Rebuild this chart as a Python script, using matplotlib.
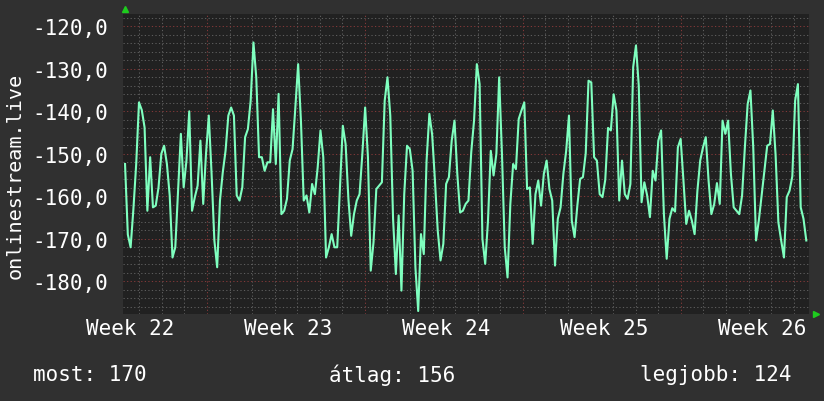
import numpy as np
import matplotlib.pyplot as plt

# onlinestream.live, ~3 hour samples over about a month
values = [
    -152.4, -169, -172, -163, -152.4, -137.9, -139.7, -143.8, -163.4, -150.8,
    -162.6, -162.2, -157.9, -150, -148.1, -152.4, -159.8, -174.4, -172, -158.7,
    -145.3, -157.9, -151.6, -140, -163.4, -160.2, -157.5, -146.9, -161.8, -150,
    -141, -154.7, -170.4, -176.7,
    -161, -154.4, -149.3, -141, -139.1, -141, -159.8, -161, -157.9, -146.1,
    -144.2, -137.5, -123.8, -132, -150.8, -150.8, -154, -152, -152, -139.5,
    -152.4, -135.9, -164.2, -163.4, -160.6, -151.6, -148.9, -139.1, -128.9, -142.2,
    -161, -159.8, -163.8, -157.1,
    -159.5, -153.2, -144.5, -150.8, -174.4, -172, -168.9, -172, -172, -157.5,
    -143.4, -147.7, -160.6, -169.3, -164.2, -161, -159.5, -150, -139.1, -150.8,
    -177.5, -170.8, -158.3, -157.5, -156.7, -137.5, -132, -141, -165.3, -178.3,
    -164.5, -182.2, -159.5, -148.1, -148.9,
    -154, -176.7, -187, -168.9, -173.6, -151.6, -140.6, -145.5, -156.3, -168.1,
    -175.1, -171.2, -157.1, -155.5, -146.9, -142.2, -154.7, -163.8, -163.4, -161.8,
    -161, -149.6, -142.2, -128.9, -133.6, -170, -175.9, -165.7, -149.3, -155.1,
    -150, -132, -150, -172, -179.1,
    -161.8, -152.4, -153.6, -141.8, -139.8, -137.9, -158.3, -157.9, -171.2, -159.5,
    -156.3, -162.2, -154.7, -151.6, -158.3, -161, -176.3, -165.3, -162.6, -154.7,
    -149.3, -141, -165.7, -169.6, -162.2, -155.9, -155.5, -149.9, -132.8, -133.2,
    -150.8, -151.6, -159.5, -160.2, -156.1, -143.9,
    -144.5, -136, -139.8, -161, -151.6, -159.5, -160.6, -157.1, -129.6, -124.5,
    -134, -161.4, -156.7, -159.8, -164.9, -154, -156.3, -146.9, -144.5, -164.2,
    -174.7, -165.3, -162.8, -163.6, -148.5, -146.5, -156.3, -166.5, -163.4, -165.7,
    -168.9, -158.7, -151.6, -148.5, -146.1,
    -156.3, -164.2, -161.9, -156.9, -161.8, -142.2, -145.3, -142.2, -154.7, -162.6,
    -163.4, -164.2, -159.8, -148.5, -138.3, -135.1, -148.5, -170.4, -165.7, -159.8,
    -154, -148.1, -147.7, -139.8, -150.2, -166.1, -170.4, -174.4, -160.2, -158.7,
    -155.3, -137.5, -133.6, -162.6, -165.3, -170.4,
]
week_labels = ['Week 22', 'Week 23', 'Week 24', 'Week 25', 'Week 26']
y_ticks = [-180, -170, -160, -150, -140, -130, -120]
summary = ['most: 170', 'átlag: 156', 'legjobb: 124']

# time axis in days from the left edge of the graph
t = np.linspace(0.09, 30.28, len(values))
week_start = 3.72
week_lines = [week_start + 7 * i for i in range(4)]
day_lines = [week_start - 3 + i for i in range(31)]
label_pos = [week_start - 3.4 + 7 * i for i in range(len(week_labels))]

bg = '#303030'
mono = 'DejaVu Sans Mono'

fig = plt.figure(figsize=(8.24, 4.02), dpi=100, facecolor=bg)
ax = fig.add_axes([123 / 824, 87 / 402, 686 / 824, 300 / 402])
ax.set_facecolor('#212121')
ax.set_xlim(0, 30.4)
ax.set_ylim(-187.7, -117.1)

# grid like rrdtool: dotted gray minor, dotted red major
dots = (0, (1.2, 2.2))
gray = '#5c5c5c'
red = '#803838'
for d in day_lines:
    if 0 < d < 30.4 and min(abs(d - w) for w in week_lines) > 0.1:
        ax.axvline(d, color=gray, lw=0.75, ls=dots, zorder=1)
for y in range(-186, -117, 2):
    if y % 10:
        ax.axhline(y, color=gray, lw=0.75, ls=dots, zorder=1)
for w in week_lines:
    ax.axvline(w, color=red, lw=0.75, ls=dots, zorder=1)
for y in y_ticks:
    ax.axhline(y, color=red, lw=0.75, ls=dots, zorder=1)

ax.plot(t, values, color='#7fffbf', lw=1.5, zorder=3)

for s in ax.spines.values():
    s.set_visible(False)

ax.set_yticks(y_ticks)
ax.set_yticklabels([f'{v:.1f}'.replace('.', ',') for v in y_ticks],
                   family=mono, fontsize=15, color='white')
ax.set_xticks(label_pos)
ax.set_xticklabels(week_labels, family=mono, fontsize=15, color='white')
ax.tick_params(axis='y', length=0, pad=11)
ax.tick_params(axis='x', length=0, pad=3)

# small green arrows at the axis ends
ax.plot([0.003], [1.017], marker='^', color='#1ecc1e', ms=5,
        transform=ax.transAxes, clip_on=False)
ax.plot([1.01], [0.0], marker='>', color='#1ecc1e', ms=5,
        transform=ax.transAxes, clip_on=False)

fig.text(15 / 824, 1 - 176 / 402, 'onlinestream.live', rotation=90,
         ha='center', va='center', family=mono, fontsize=14.5, color='white')

fig.text(33 / 824, 1 - 375 / 402, summary[0], ha='left', va='center',
         family=mono, fontsize=15, color='white')
fig.text(392 / 824, 1 - 375 / 402, summary[1], ha='center', va='center',
         family=mono, fontsize=15, color='white')
fig.text(792 / 824, 1 - 375 / 402, summary[2], ha='right', va='center',
         family=mono, fontsize=15, color='white')

fig.savefig('out.png', dpi=100, facecolor=bg)
